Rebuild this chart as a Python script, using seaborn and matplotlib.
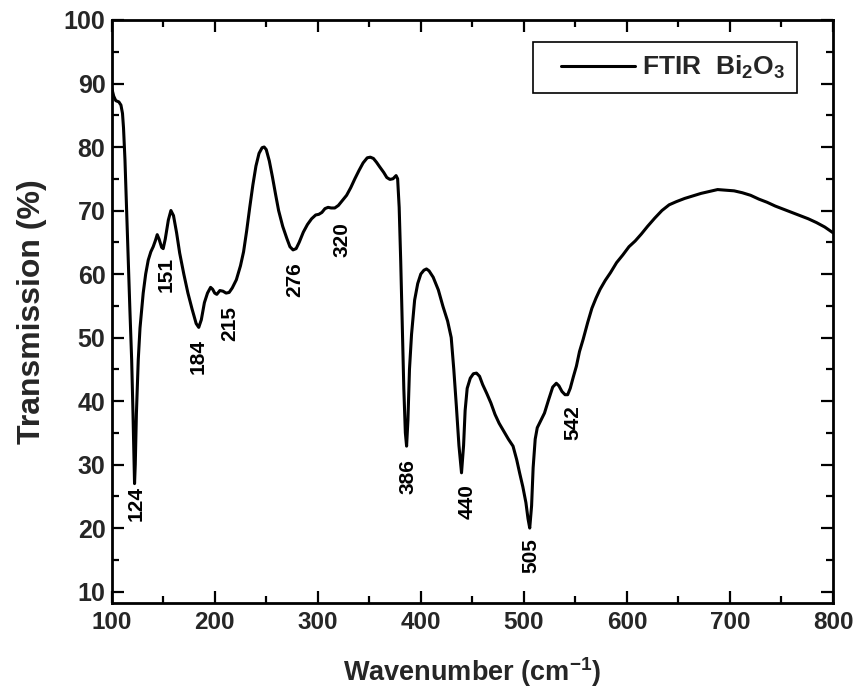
import matplotlib
matplotlib.use("Agg")
import matplotlib.pyplot as plt
import seaborn as sns
import pandas as pd
from matplotlib.ticker import MultipleLocator
from matplotlib.lines import Line2D
from matplotlib.legend_handler import HandlerLine2D

# ---- data ----
wavenumber = [100, 102, 104, 107, 109, 110.5, 111.5, 112.9, 114.5, 116.1, 117.7, 119.4, 120.7, 121.6, 122.2,
              122.9, 124, 125.8, 127.5, 130.6, 133, 135.5, 138, 140.3, 142.5, 144.2, 146, 148.5, 150, 152, 155,
              157.5, 160, 163, 166, 170, 174, 178, 182, 184.5, 187, 190, 193, 196, 198, 200, 202, 205, 208, 211,
              214, 217, 221, 225, 228, 231, 234, 237, 240, 243, 246, 248, 250, 253, 256, 259, 262, 266, 270, 273,
              276, 279, 282, 286, 290, 294, 298, 301, 304, 307, 310, 313, 316.5, 320, 324, 328, 332, 336, 340,
              344, 348, 351, 354, 357, 360, 364, 367, 370, 373, 376, 377.5, 379, 380.5, 382, 383.5, 385, 386.2,
              387.5, 389, 391, 394, 397, 400, 403, 405.5, 408, 412, 417, 421.5, 426, 429.5, 432, 434.5, 437,
              439.5, 441.5, 443, 445, 448, 451, 454, 457, 460, 464, 468, 472, 476, 480, 485, 489.5, 493, 496,
              499, 502, 504, 505.7, 507.5, 509, 511, 513, 516, 520, 524, 528, 531.5, 534, 537, 540, 542.5, 545,
              548, 551, 554, 557.5, 562, 566, 570, 574, 579, 584, 590, 596, 602, 608, 614, 620, 627, 634, 641,
              648, 656, 664, 672, 680, 688, 696, 704, 712, 720, 728, 736, 744, 752, 760, 768, 776, 784, 792, 800]
transmission = [89.3, 88.0, 87.3, 87.1, 86.6, 85.3, 83.0, 78.0, 70.0, 62.2, 54.3, 46.5, 38.0, 31.0, 27.0,
                30.0, 38.0, 46.5, 51.5, 57.0, 60.0, 62.2, 63.5, 64.3, 65.3, 66.2, 65.5, 64.2, 64.0, 65.5, 68.5,
                70.0, 69.2, 66.5, 63.3, 60.0, 57.0, 54.5, 52.2, 51.6, 52.8, 55.5, 57.0, 57.9, 57.6, 57.0, 56.8,
                57.4, 57.3, 57.0, 57.1, 57.8, 59.1, 61.3, 63.5, 66.8, 70.5, 74.0, 77.0, 79.0, 79.9, 80.0, 79.6,
                77.8, 75.3, 72.6, 70.0, 67.5, 65.6, 64.3, 63.8, 64.0, 65.0, 66.6, 67.8, 68.7, 69.3, 69.4, 69.7,
                70.3, 70.5, 70.4, 70.4, 70.8, 71.6, 72.4, 73.6, 75.0, 76.3, 77.5, 78.3, 78.4, 78.2, 77.6, 76.9,
                76.0, 75.2, 74.9, 75.0, 75.5, 75.0, 70.5, 62.0, 52.0, 42.0, 35.0, 32.9, 37.0, 45.0, 50.5, 55.9,
                58.5, 60.0, 60.6, 60.8, 60.5, 59.5, 57.5, 54.9, 52.6, 50.0, 45.0, 39.2, 33.0, 28.7, 33.0, 38.5,
                42.0, 43.6, 44.3, 44.4, 43.9, 42.6, 41.2, 39.7, 37.9, 36.5, 35.4, 34.0, 32.9, 30.8, 28.6, 26.5,
                24.0, 21.5, 20.0, 23.5, 29.5, 34.0, 35.8, 36.8, 38.1, 40.2, 42.2, 42.8, 42.4, 41.5, 41.0, 41.0,
                42.0, 43.8, 45.5, 47.8, 49.7, 52.4, 54.6, 56.2, 57.6, 59.0, 60.2, 61.8, 63.0, 64.3, 65.2, 66.3,
                67.5, 68.8, 70.0, 70.9, 71.4, 71.9, 72.3, 72.7, 73.0, 73.3, 73.2, 73.1, 72.8, 72.4, 71.8, 71.3,
                70.7, 70.2, 69.7, 69.2, 68.7, 68.1, 67.4, 66.5]

peak_labels = ["124", "151", "184", "215", "276", "320", "386", "440", "505", "542"]
peak_label_x = [123.6, 152.7, 183.7, 214.8, 277.7, 323.3, 387.7, 444.8, 507.3, 547.4]
peak_label_y = [23.9, 59.9, 47.0, 52.2, 59.1, 65.4, 28.1, 24.2, 15.7, 36.6]

x_ticks = [100, 200, 300, 400, 500, 600, 700, 800]
y_ticks = [10, 20, 30, 40, 50, 60, 70, 80, 90, 100]

series_label = "FTIR  Bi$_2$O$_3$"

# ---- style ----
sns.set_theme(style="ticks")
plt.rcParams["font.family"] = ["Liberation Sans", "DejaVu Sans"]
plt.rcParams["font.weight"] = "bold"
plt.rcParams["mathtext.fontset"] = "custom"
plt.rcParams["mathtext.rm"] = "Liberation Sans:bold"
plt.rcParams["mathtext.bf"] = "Liberation Sans:bold"
plt.rcParams["mathtext.it"] = "Liberation Sans:bold"
plt.rcParams["mathtext.sf"] = "Liberation Sans:bold"

fig = plt.figure(figsize=(8.57, 6.92), dpi=100)
ax = fig.add_axes([0.1303, 0.1286, 0.8417, 0.8425])

df = pd.DataFrame({"Wavenumber": wavenumber, "Transmission": transmission})
sns.lineplot(data=df, x="Wavenumber", y="Transmission", sort=False, color="black",
             linewidth=2.2, ax=ax, legend=False)

for txt, lx, ly in zip(peak_labels, peak_label_x, peak_label_y):
    ax.text(lx, ly, txt, rotation=90, ha="center", va="center",
            fontsize=15, fontweight="bold", color="black")

ax.set_xlim(100, 800)
ax.set_ylim(8.2, 100)
ax.set_xticks(x_ticks)
ax.set_yticks(y_ticks)
ax.xaxis.set_minor_locator(MultipleLocator(50))
ax.yaxis.set_minor_locator(MultipleLocator(5))
ax.tick_params(which="both", direction="in", top=True, right=True, width=1.6, color="black")
ax.tick_params(which="major", length=8.5)
ax.tick_params(which="minor", length=5)
ax.tick_params(axis="y", which="major", labelsize=18, pad=4.5)
ax.tick_params(axis="x", which="major", labelsize=17.5, pad=6)
for lab in ax.get_yticklabels() + ax.get_xticklabels():
    lab.set_fontweight("bold")
for sp in ax.spines.values():
    sp.set_linewidth(2)
    sp.set_color("black")

ax.set_xlabel("Wavenumber (cm$^{-1}$)", fontsize=19.5, fontweight="bold", labelpad=15)
ax.set_ylabel("Transmission (%)", fontsize=23, fontweight="bold", labelpad=12)

handles = [Line2D([], [], color="black", linewidth=2.2)]
leg = ax.legend(handles, [series_label], loc="upper right", bbox_to_anchor=(0.950, 0.962),
                borderaxespad=0, frameon=True, fancybox=False, framealpha=1, edgecolor="black",
                prop={"size": 19, "weight": "bold"}, handlelength=3.42, handletextpad=0.25,
                borderpad=0.45, handler_map={Line2D: HandlerLine2D(xpad=0.62)})
leg.get_frame().set_linewidth(1.2)

fig.savefig("out.png", dpi=100)
